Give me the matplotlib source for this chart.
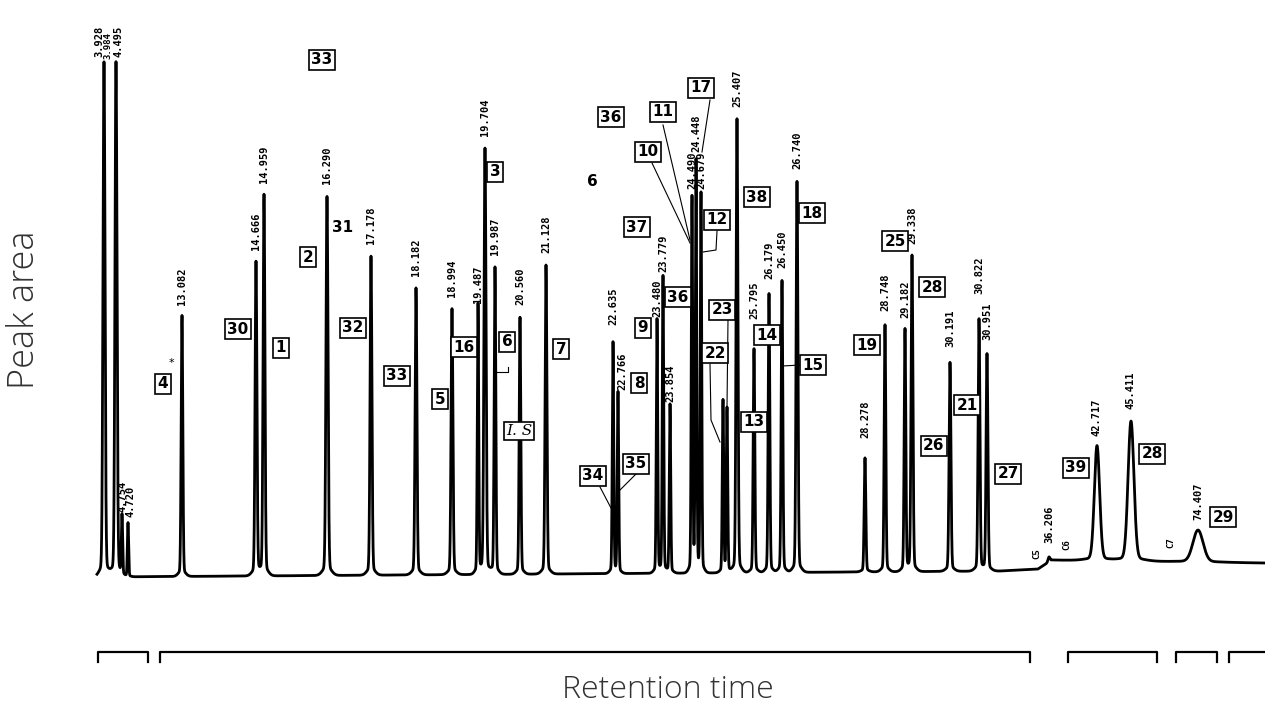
import numpy as np
import matplotlib
matplotlib.use("Agg")
import matplotlib.pyplot as plt

peak_pos = [104, 116, 122, 128, 182, 256, 264, 327, 371, 416, 452, 478, 485, 495,
            520, 546, 613, 618, 657, 663, 670, 692, 696, 701, 723, 727, 737, 754,
            769, 782, 797, 865, 885, 905, 912, 950, 979, 987, 1049, 1097, 1131, 1198]
peak_height = [515, 515, 59, 54, 261, 314, 381, 379, 319, 287, 266, 269, 426, 307,
               257, 309, 231, 181, 254, 297, 169, 374, 409, 379, 172, 164, 454, 224,
               279, 292, 391, 114, 247, 242, 316, 209, 252, 217, 5, 115, 140, 32]
peak_sigma = [1.0, 1.0, 0.6, 0.6, 0.8, 0.9, 0.9, 1.0, 0.9, 0.9, 0.9, 0.7, 1.0, 0.8,
              0.8, 0.9, 0.7, 0.7, 0.7, 0.7, 0.7, 0.7, 0.7, 0.7, 0.7, 0.7, 0.9, 0.8,
              0.8, 0.8, 0.9, 0.8, 0.8, 0.8, 0.9, 0.9, 0.9, 0.9, 1.0, 2.6, 2.9, 5.0]
rt_text = ["3.928", "4.495", "4.754", "4.720", "13.082", "14.666", "14.959", "16.290",
           "17.178", "18.182", "18.994", "19.487", "19.704", "19.987", "20.560",
           "21.128", "22.635", "22.766", "23.480", "23.779", "23.854", "24.490",
           "24.448", "24.679", "", "", "25.407", "25.795", "26.179", "26.450",
           "26.740", "28.278", "28.748", "29.182", "29.338", "30.191", "30.822",
           "30.951", "36.206", "42.717", "45.411", "74.407"]

# ligne de base (derive + saut vers la fin)
base_x = [97, 1000, 1038, 1052, 1265]
base_y = [-3, 3, 5, 14, 11]

# segments de temps en bas
bracket_segments = [(98, 148), (160, 1030), (1068, 1157), (1176, 1217), (1229, 1268)]

## mise en page (pixels de l'image)
lab_gap = {0: 5, 1: 5, 2: 6, 3: 6, 4: 10, 11: 2, 16: 18, 17: 3, 18: 2, 19: 4, 20: 2,
           21: 10, 23: 5, 27: 30, 28: 15, 31: 20, 32: 14, 35: 15, 36: 25, 37: 14,
           38: 14, 39: 10, 41: 10}
lab_dx = {0: -5, 1: 2, 3: 2, 17: 4}

# (texte, x, y) des numeros encadres
boxes = [("33", 322, 60), ("30", 238, 329), ("1", 281, 348), ("2", 308, 257),
         ("32", 353, 328), ("33", 397, 376), ("4", 163, 384), ("5", 440, 399),
         ("16", 464, 347), ("3", 495, 172), ("6", 507, 342), ("7", 561, 349),
         ("36", 611, 117), ("37", 637, 227), ("9", 643, 328), ("8", 639, 383),
         ("36", 678, 297), ("34", 593, 476), ("35", 636, 464), ("11", 663, 112),
         ("10", 648, 152), ("17", 701, 88), ("12", 717, 220), ("23", 722, 310),
         ("22", 715, 353), ("38", 757, 197), ("14", 767, 335), ("13", 754, 422),
         ("15", 813, 365), ("18", 812, 213), ("19", 867, 345), ("25", 895, 241),
         ("28", 932, 287), ("26", 934, 446), ("21", 967, 405), ("27", 1008, 474),
         ("39", 1076, 468), ("28", 1152, 454), ("29", 1223, 517)]
plain = [("31", 343, 228), ("6", 592, 182)]
leaders = [[(600, 487), (611, 508)], [(637, 473), (620, 490)],
           [(663, 125), (690, 240)], [(652, 163), (690, 243)],
           [(710, 100), (702, 152)], [(717, 231), (716, 250), (703, 252)],
           [(728, 320), (727, 407)], [(710, 364), (711, 420), (720, 442)],
           [(801, 365), (782, 366)], [(495, 372), (508, 372), (508, 367)]]
markers = [("C5", 1037, 554), ("C6", 1067, 545), ("C7", 1171, 543)]

Y0 = 574  # ligne de base en pixels


def py(v):
    return Y0 - v


## signal
x = np.arange(97, 1265, 0.1)
y = np.interp(x, base_x, base_y)
for p, h, s in zip(peak_pos, peak_height, peak_sigma):
    y += h * (0.975 * np.exp(-0.5 * ((x - p) / s) ** 2)
              + 0.025 * np.exp(-0.5 * ((x - p) / (4 * s)) ** 2))

fig = plt.figure(figsize=(12.65, 7.15), dpi=100)
ax = fig.add_axes([0, 0, 1, 1])
ax.set_xlim(0, 1265)
ax.set_ylim(Y0 - 715, Y0)
ax.axis("off")

ax.plot(x, y, color="black", lw=2.0)

# temps de retention
for i, (p, h, t) in enumerate(zip(peak_pos, peak_height, rt_text)):
    if t == "":
        continue
    b = np.interp(p, base_x, base_y)
    ax.text(p + lab_dx.get(i, 0), b + h + lab_gap.get(i, 12), t, rotation=90,
            ha="center", va="bottom", fontsize=7.5, family="DejaVu Sans Mono",
            fontweight="bold")
ax.text(108, py(59), "3.984", rotation=90, ha="center", va="bottom", fontsize=6.5,
        family="DejaVu Sans Mono", fontweight="bold")

for t, bx, by in boxes:
    ax.text(bx, py(by), t, ha="center", va="center", fontsize=11, fontweight="bold",
            bbox=dict(boxstyle="square,pad=0.15", fc="white", ec="black", lw=1.2))
ax.text(519, py(431), "I. S", ha="center", va="center", fontsize=11,
        family="DejaVu Serif", fontstyle="italic",
        bbox=dict(boxstyle="square,pad=0.15", fc="white", ec="black", lw=1.2))
for t, bx, by in plain:
    ax.text(bx, py(by), t, ha="center", va="center", fontsize=11, fontweight="bold")
ax.text(171, py(363), "*", ha="center", va="center", fontsize=8)
for t, bx, by in markers:
    ax.text(bx, py(by), t, rotation=90, ha="center", va="center", fontsize=6.5,
            family="DejaVu Sans Mono", fontweight="bold")

for pts in leaders:
    ax.plot([q[0] for q in pts], [py(q[1]) for q in pts], color="black", lw=0.8)

# crochets du bas
for a, b in bracket_segments:
    ax.plot([a, a, b, b], [py(662), py(652), py(652), py(662)], color="black", lw=1.6)

ax.text(25, py(310), "Peak area", rotation=90, ha="center", va="center",
        fontsize=26, family=["Open Sans", "DejaVu Sans"], fontweight="light",
        color="#333333")
ax.text(668, py(690), "Retention time", ha="center", va="center",
        fontsize=23, family=["Open Sans", "DejaVu Sans"], fontweight="light",
        color="#333333")

fig.savefig("out.png", dpi=100)
